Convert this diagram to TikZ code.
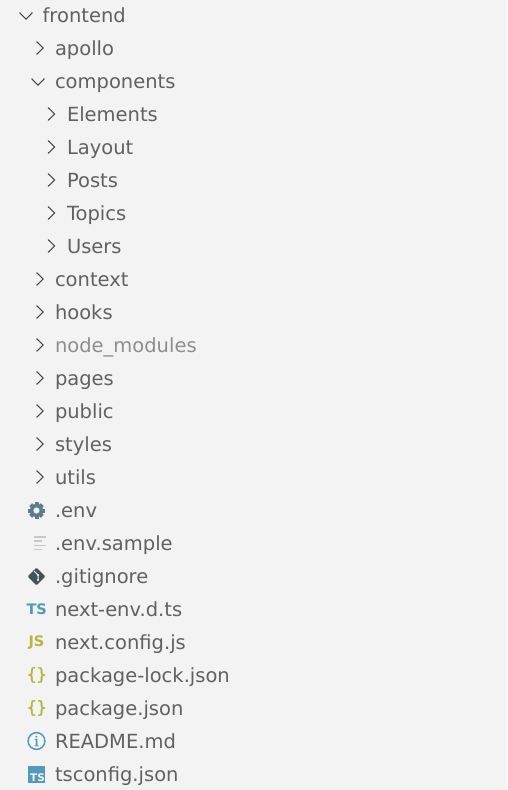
\documentclass[tikz,border=0pt]{standalone}
\usepackage{fontspec}
\setmainfont{DejaVu Sans}
\newfontfamily\bracefont[FakeBold=1.5]{DejaVu Sans}
\newfontfamily\infofont[FakeBold=1.2]{DejaVu Serif}
\definecolor{bgc}{HTML}{F3F3F3}
\definecolor{txt}{HTML}{616161}
\definecolor{dim}{HTML}{8E8E8E}
\definecolor{chev}{HTML}{4A4A4A}
\definecolor{tsb}{HTML}{519ABA}
\definecolor{jsy}{HTML}{B7B73B}
\definecolor{gear}{HTML}{5F7C8A}
\definecolor{gitc}{HTML}{41535B}
\definecolor{linec}{HTML}{C8C8C8}
\tikzset{
  entry/.style={anchor=base west,inner sep=0pt,outer sep=0pt,text=txt,font=\fontsize{19.5}{23}\selectfont},
  chevr/.style={draw=chev,line width=1.1pt,line cap=round,line join=miter},
  badge/.style={inner sep=0pt,font=\fontsize{14.5}{16}\selectfont\bfseries},
  brace/.style={inner sep=0pt,text=jsy,font=\bracefont\fontsize{17}{19}\selectfont},
}
\newcommand{\cright}[2]{\draw[chevr] (#1-3.2,#2-6.2) -- (#1+3.2,#2) -- (#1-3.2,#2+6.2);}
\newcommand{\cdown}[2]{\draw[chevr] (#1-6.2,#2-3.2) -- (#1,#2+3.2) -- (#1+6.2,#2-3.2);}
\begin{document}
\begin{tikzpicture}[x=1pt,y=-1pt]
\useasboundingbox (0,0) rectangle (507,790);
\fill[bgc] (0,0) rectangle (507,790);
% rows
\node[entry] (frontend) at (42.6,22) {frontend};
\node[entry] (apollo) at (55,55) {apollo};
\node[entry] (components) at (55,88) {components};
\node[entry] (elements) at (67,121) {Elements};
\node[entry] (layout) at (67,154) {Layout};
\node[entry] (posts) at (67,187) {Posts};
\node[entry] (topics) at (67,220) {Topics};
\node[entry] (users) at (67,253) {Users};
\node[entry] (context) at (55,286) {context};
\node[entry] (hooks) at (55,319) {hooks};
\node[entry,text=dim] (nodemodules) at (55,352) {node\_modules};
\node[entry] (pages) at (55,385) {pages};
\node[entry] (public) at (55,418) {public};
\node[entry] (styles) at (55,451) {styles};
\node[entry] (utils) at (55,484) {utils};
\node[entry] (env) at (55,517) {.env};
\node[entry] (envsample) at (55,550) {.env.sample};
\node[entry] (gitignore) at (55,583) {.gitignore};
\node[entry] (nextenv) at (55,616) {next-env.d.ts};
\node[entry] (nextconfig) at (55,649) {next.config.js};
\node[entry] (packagelock) at (55,682) {package-lock.json};
\node[entry] (packagejson) at (55,715) {package.json};
\node[entry] (readme) at (55,748) {README.md};
\node[entry] (tsconfig) at (55,781) {tsconfig.json};
% chevrons
\cdown{26}{16}
\cright{40}{48}
\cdown{38}{82}
\cright{51.5}{114}
\cright{51.5}{147}
\cright{51.5}{180}
\cright{51.5}{213}
\cright{51.5}{246}
\cright{40}{279}
\cright{40}{312}
\cright{40}{345}
\cright{40}{378}
\cright{40}{411}
\cright{40}{444}
\cright{40}{477}
% gear icon
\begin{scope}[shift={(36.5,510.5)}]
  \foreach \a in {0,45,...,315} {\fill[gear,rotate=\a] (-2,-8.3) rectangle (2,-4);}
  \fill[gear,even odd rule] (0,0) circle (6.6) (0,0) circle (3.2);
\end{scope}
% lines icon
\foreach \yy/\xx in {537/46,541/42,545.5/46,549.5/42}
  {\fill[linec] (33.5,\yy-0.9) rectangle (\xx,\yy+0.9);}
% git diamond
\begin{scope}[shift={(36.5,576.5)}]
  \fill[gitc,rounded corners=1pt] (-8.8,0) -- (0,-8.8) -- (8.8,0) -- (0,8.8) -- cycle;
  \draw[bgc,line width=1pt] (-2.5,-5.5) -- (1.5,-1.5) -- (1.5,3.5);
  \fill[bgc] (1.5,-1.5) circle (1.2) (1.5,3.5) circle (1.2);
\end{scope}
% TS / JS
\node[badge,text=tsb] (tsicon) at (36.7,609.5) {TS};
\node[badge,text=jsy] (jsicon) at (36.5,642.5) {JS};
% json icons
\node[brace] (jsonicona) at (36.7,675) {\{\hspace{-1pt}\}};
\node[brace] (jsoniconb) at (36.7,708) {\{\hspace{-1pt}\}};
% info icon
\draw[tsb,line width=1.5pt] (36.5,741) circle (8.4);
\node[inner sep=0pt,text=tsb,font=\infofont\fontsize{14}{15}\selectfont] (infoicon) at (36.5,741) {i};
% tsconfig icon
\fill[tsb] (28.3,766) rectangle (44.8,783);
\node[inner sep=0pt,text=bgc,font=\fontsize{10.5}{12}\selectfont\bfseries] (tsbox) at (37.6,777.3) {TS};
\end{tikzpicture}
\end{document}
